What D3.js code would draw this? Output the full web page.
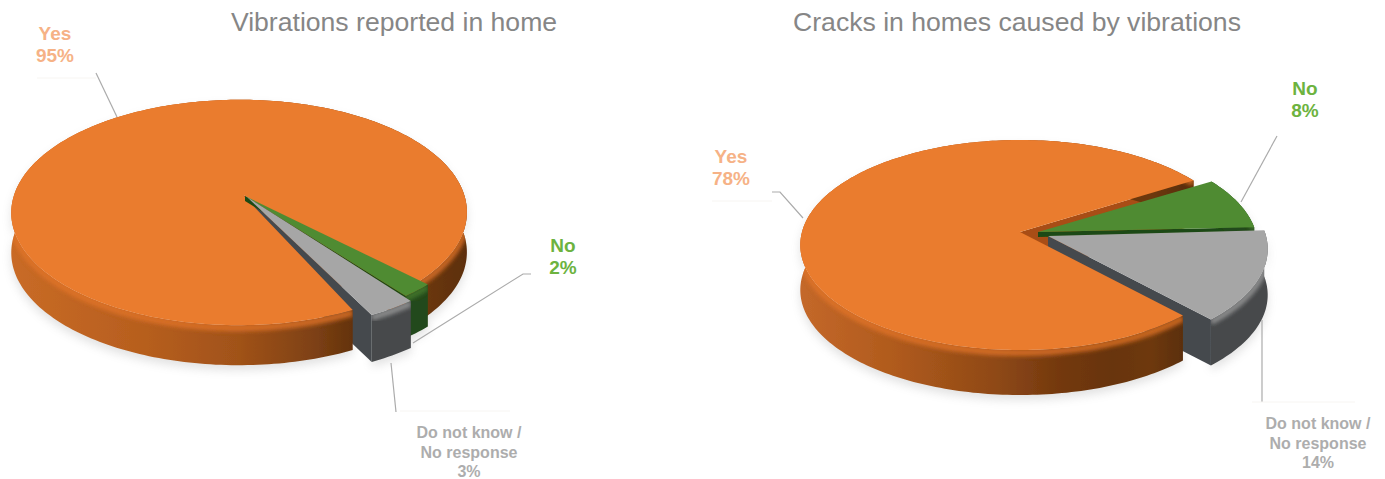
<!DOCTYPE html>
<html>
<head>
<meta charset="utf-8">
<title>Vibrations and cracks in homes</title>
<script src="https://cdn.jsdelivr.net/npm/d3@7"></script>
<style>
  html, body { margin: 0; padding: 0; background: #fff; }
  svg { display: block; font-family: "Liberation Sans", Arial, sans-serif; }
</style>
</head>
<body>
<svg id="chart" width="1385" height="479"></svg>
<script>
// Survey results
const categories = ["Yes", "No", "Do not know / No response"];
const vibrationShares = [95, 2, 3];
const crackShares = [78, 8, 14];
const titles = ["Vibrations reported in home", "Cracks in homes caused by vibrations"];

// Slice palette, in category order
const topColors = ["#EA7B2D", "#4F8B33", "#A6A6A6"];
const wallColors = ["#A84E12", "#1E4A12", "#45494E"];
const sideColors = ["#000", "#24491A", "#47494B"];
const rimColors = ["#E27529", "#4A8030", "#A0A0A0"];
const labelColors = ["#F6B286", "#6DB33F", "#ADADAD"];

const svg = d3.select("#chart");
const defs = svg.append("defs");

const addBlur = (id, sd) => defs.append("filter").attr("id", id)
  .attr("x", "-20%").attr("y", "-20%").attr("width", "140%").attr("height", "140%")
  .append("feGaussianBlur").attr("stdDeviation", sd);
addBlur("soft", 0.6);
addBlur("bevel", 2.2);
addBlur("shade", 5);

// Brown shading that runs along the outer wall of the largest slice
function addSideGradient(id, x0, x1, stops) {
  const g = defs.append("linearGradient").attr("id", id)
    .attr("gradientUnits", "userSpaceOnUse")
    .attr("x1", x0).attr("x2", x1).attr("y1", 0).attr("y2", 0);
  stops.forEach(([o, c]) => g.append("stop").attr("offset", o).attr("stop-color", c));
}
addSideGradient("sideA", 10, 470, [[0, "#C96B26"], [0.3, "#B65E1E"], [0.5, "#A05219"], [0.66, "#7E4114"], [0.76, "#5F300A"], [0.9, "#6B380F"], [1, "#5C2E0B"]]);
addSideGradient("sideB", 800, 1190, [[0, "#C4682A"], [0.25, "#AF5A1C"], [0.5, "#8F4916"], [0.66, "#74390F"], [0.8, "#683408"], [0.9, "#6E390C"], [1, "#572C09"]]);

const line = d3.line();
const rad = d => d * Math.PI / 180;

function drawPie(spec) {
  const { key, shares, apex, rx, ry, k, j, start, tip, rim, depth, side } = spec;
  const arcs = d3.pie().sort(null).value(d => d)
    .startAngle(rad(start)).endAngle(rad(start + 360))(shares);

  const sx = d3.scaleLinear().domain([0, 1]).range([apex[0], apex[0] + rx]);
  const sy = d3.scaleLinear().domain([0, 1]).range([apex[1], apex[1] + ry]);

  // Angle (clockwise from north) to a point on the tilted rim of slice i
  const rimPt = (a, i) => {
    const u = Math.sin(a), v = -Math.cos(a), w = 1 - k * v + j * u;
    return [sx(u / w) + rim[i][0], sy(v / w) + rim[i][1]];
  };
  const tipPt = i => [apex[0] + tip[i][0], apex[1] + tip[i][1]];
  const down = (p, h) => [p[0], p[1] + h];
  const rimArc = (d, i) => {
    const n = Math.max(4, Math.ceil((d.endAngle - d.startAngle) / 0.02));
    return d3.range(n + 1).map(t => rimPt(d.startAngle + (d.endAngle - d.startAngle) * t / n, i));
  };
  const faceD = (d, i) => line([tipPt(i), ...rimArc(d, i)]) + "Z";
  const sideD = (d, i) => {
    const r = rimArc(d, i);
    return line([...r, ...r.slice().reverse().map(p => down(p, depth[i]))]) + "Z";
  };
  const wallD = (a, i, h) => {
    const t = tipPt(i), p = rimPt(a, i);
    return line([t, p, down(p, h), down(t, h)]) + "Z";
  };

  const root = svg.append("g");

  // Soft contact shadow under the whole body
  const shadow = root.append("g").attr("filter", "url(#shade)").attr("opacity", 0.2).attr("transform", "translate(0,5)");
  arcs.forEach((d, i) => shadow.append("path").attr("d", sideD(d, i)).attr("fill", "#707070"));

  const body = root.append("g").attr("filter", "url(#soft)");

  const drawOuter = i => {
    const side_d = sideD(arcs[i], i);
    const clipId = `rim-${key}-${i}`;
    defs.append("clipPath").attr("id", clipId).append("path").attr("d", side_d);
    body.append("path").attr("d", side_d).attr("fill", i === 0 ? side : sideColors[i]);
    // Rounded edge between the top face and the outer wall, kept inside the wall
    body.append("g").attr("clip-path", `url(#${clipId})`)
      .append("path").attr("d", line(rimArc(arcs[i], i))).attr("fill", "none")
      .attr("stroke", rimColors[i]).attr("stroke-width", i === 0 ? 7 : 6)
      .attr("opacity", 0.8).attr("transform", "translate(0,2.5)").attr("filter", "url(#bevel)");
    body.append("path").attr("d", faceD(arcs[i], i)).attr("fill", topColors[i]);
  };

  // Back to front: cut walls behind the large slice, the large slice, then the small slices
  body.append("path").attr("d", wallD(arcs[0].endAngle, 0, depth[0])).attr("fill", wallColors[0]);
  body.append("path").attr("d", wallD(arcs[2].endAngle, 2, depth[2])).attr("fill", wallColors[2]);
  drawOuter(0);
  body.append("path").attr("d", wallD(arcs[1].endAngle, 1, 5)).attr("fill", wallColors[1]);
  drawOuter(1);
  drawOuter(2);

  // Title
  svg.append("text").attr("x", spec.titleX).attr("y", 31).attr("text-anchor", "middle")
    .attr("font-size", 26.6).attr("fill", "#868686").text(spec.title);

  // Leader lines with their pale shelves
  spec.leaders.forEach(pts => svg.append("path").attr("d", line(pts)).attr("fill", "none")
    .attr("stroke", "#ABABAB").attr("stroke-width", 1.2));
  spec.shelves.forEach(pts => svg.append("path").attr("d", line(pts)).attr("fill", "none")
    .attr("stroke", "#F7F5F2").attr("stroke-width", 1));

  // Data labels
  spec.labels.forEach((l, i) => {
    const rows = (i === 2 ? ["Do not know /", "No response"] : [categories[i]]).concat(shares[i] + "%");
    const t = svg.append("text").attr("text-anchor", "middle").attr("font-weight", "bold")
      .attr("font-size", i === 2 ? 16 : 19).attr("fill", labelColors[i]);
    rows.forEach((r, n) => t.append("tspan").attr("x", l[0]).attr("y", l[1] + n * (i === 2 ? 19.5 : 22)).text(r));
  });
}

drawPie({
  key: "vibrations", title: titles[0], titleX: 394, shares: vibrationShares,
  apex: [243, 195], rx: 225, ry: 110, k: 0.155, j: 0.017, start: 155, side: "url(#sideA)",
  tip: [[0, 0], [2, 1], [4, 2]], rim: [[0, 0], [14, 0], [19, 5]], depth: [40, 42, 47],
  leaders: [[[117, 117], [96, 73]], [[413, 343], [523, 274], [531, 274]], [[391, 363], [396, 412]]],
  shelves: [[[37, 78], [96, 78]], [[400, 411], [510, 411]]],
  labels: [[55, 40], [563, 252], [469, 438]]
});

drawPie({
  key: "cracks", title: titles[1], titleX: 1017, shares: crackShares,
  apex: [1020, 232], rx: 218, ry: 103.4, k: 0.124, j: 0, start: 137.2, side: "url(#sideB)",
  tip: [[0, 0], [18, 0], [28, 4]], rim: [[0, 0], [18, 1], [28, 4]], depth: [45, 40, 46],
  leaders: [[[803, 218], [780, 192], [772, 192]], [[1241, 202], [1277, 136]], [[1262, 320], [1262, 402]]],
  shelves: [[[712, 201], [772, 201]], [[1252, 402], [1355, 402]]],
  labels: [[731, 163], [1305, 95], [1318, 429]]
});
</script>
</body>
</html>
